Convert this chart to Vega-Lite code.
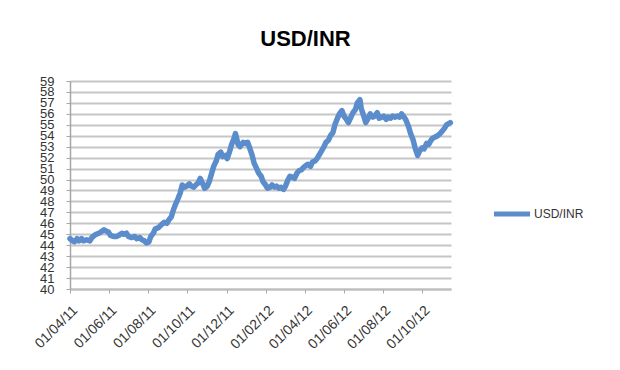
{
  "$schema": "https://vega.github.io/schema/vega-lite/v6.json",
  "autosize": {"type": "none"},
  "width": 381,
  "height": 208,
  "padding": {"left": 70, "top": 81, "right": 169, "bottom": 81},
  "background": "white",
  "title": {"text": "USD/INR", "anchor": "middle", "frame": "group", "dx": 45, "offset": 24, "font": "Liberation Sans", "fontSize": 22, "fontWeight": "bold", "color": "#000000"},
  "config": {"view": {"stroke": null}},
  "data": {"values": [
    {"date": "2011-04-01", "rate": 44.6}, {"date": "2011-04-05", "rate": 44.4}, {"date": "2011-04-08", "rate": 44.3}, {"date": "2011-04-12", "rate": 44.6},
    {"date": "2011-04-15", "rate": 44.4}, {"date": "2011-04-19", "rate": 44.6}, {"date": "2011-04-22", "rate": 44.4}, {"date": "2011-04-27", "rate": 44.5},
    {"date": "2011-05-02", "rate": 44.4}, {"date": "2011-05-05", "rate": 44.7}, {"date": "2011-05-09", "rate": 44.9}, {"date": "2011-05-12", "rate": 45.0},
    {"date": "2011-05-16", "rate": 45.1}, {"date": "2011-05-19", "rate": 45.2}, {"date": "2011-05-24", "rate": 45.4}, {"date": "2011-05-27", "rate": 45.3},
    {"date": "2011-05-31", "rate": 45.2}, {"date": "2011-06-03", "rate": 44.9}, {"date": "2011-06-08", "rate": 44.8}, {"date": "2011-06-13", "rate": 44.8},
    {"date": "2011-06-16", "rate": 44.9}, {"date": "2011-06-21", "rate": 45.1}, {"date": "2011-06-24", "rate": 45.0}, {"date": "2011-06-28", "rate": 45.1},
    {"date": "2011-07-01", "rate": 44.8}, {"date": "2011-07-06", "rate": 44.7}, {"date": "2011-07-11", "rate": 44.8}, {"date": "2011-07-14", "rate": 44.6},
    {"date": "2011-07-19", "rate": 44.7}, {"date": "2011-07-22", "rate": 44.5}, {"date": "2011-07-26", "rate": 44.4}, {"date": "2011-07-29", "rate": 44.2},
    {"date": "2011-08-02", "rate": 44.3}, {"date": "2011-08-05", "rate": 44.8}, {"date": "2011-08-09", "rate": 45.1}, {"date": "2011-08-12", "rate": 45.5},
    {"date": "2011-08-17", "rate": 45.6}, {"date": "2011-08-22", "rate": 45.9}, {"date": "2011-08-26", "rate": 46.1}, {"date": "2011-08-30", "rate": 46.0},
    {"date": "2011-09-02", "rate": 46.3}, {"date": "2011-09-06", "rate": 46.6}, {"date": "2011-09-09", "rate": 47.2}, {"date": "2011-09-13", "rate": 47.8},
    {"date": "2011-09-16", "rate": 48.2}, {"date": "2011-09-20", "rate": 48.8}, {"date": "2011-09-23", "rate": 49.5}, {"date": "2011-09-27", "rate": 49.3},
    {"date": "2011-09-30", "rate": 49.4}, {"date": "2011-10-04", "rate": 49.6}, {"date": "2011-10-07", "rate": 49.4}, {"date": "2011-10-11", "rate": 49.3},
    {"date": "2011-10-14", "rate": 49.5}, {"date": "2011-10-18", "rate": 49.7}, {"date": "2011-10-21", "rate": 50.1}, {"date": "2011-10-25", "rate": 49.6},
    {"date": "2011-10-28", "rate": 49.2}, {"date": "2011-11-01", "rate": 49.4}, {"date": "2011-11-04", "rate": 49.8}, {"date": "2011-11-08", "rate": 50.6},
    {"date": "2011-11-11", "rate": 51.2}, {"date": "2011-11-15", "rate": 51.7}, {"date": "2011-11-18", "rate": 52.3}, {"date": "2011-11-22", "rate": 52.5},
    {"date": "2011-11-25", "rate": 52.1}, {"date": "2011-11-29", "rate": 52.2}, {"date": "2011-12-02", "rate": 51.9}, {"date": "2011-12-06", "rate": 52.6},
    {"date": "2011-12-09", "rate": 53.2}, {"date": "2011-12-13", "rate": 53.8}, {"date": "2011-12-15", "rate": 54.2}, {"date": "2011-12-19", "rate": 53.2},
    {"date": "2011-12-22", "rate": 53.0}, {"date": "2011-12-27", "rate": 53.4}, {"date": "2011-12-30", "rate": 53.3}, {"date": "2012-01-03", "rate": 53.4},
    {"date": "2012-01-06", "rate": 52.9}, {"date": "2012-01-10", "rate": 52.2}, {"date": "2012-01-13", "rate": 51.5}, {"date": "2012-01-17", "rate": 51.0},
    {"date": "2012-01-20", "rate": 50.6}, {"date": "2012-01-24", "rate": 50.3}, {"date": "2012-01-27", "rate": 49.8}, {"date": "2012-01-31", "rate": 49.5},
    {"date": "2012-02-03", "rate": 49.2}, {"date": "2012-02-07", "rate": 49.3}, {"date": "2012-02-10", "rate": 49.5}, {"date": "2012-02-14", "rate": 49.3},
    {"date": "2012-02-17", "rate": 49.4}, {"date": "2012-02-21", "rate": 49.2}, {"date": "2012-02-24", "rate": 49.3}, {"date": "2012-02-28", "rate": 49.1},
    {"date": "2012-03-02", "rate": 49.4}, {"date": "2012-03-06", "rate": 50.0}, {"date": "2012-03-09", "rate": 50.3}, {"date": "2012-03-13", "rate": 50.2},
    {"date": "2012-03-16", "rate": 50.1}, {"date": "2012-03-20", "rate": 50.6}, {"date": "2012-03-23", "rate": 50.8}, {"date": "2012-03-27", "rate": 50.9},
    {"date": "2012-03-30", "rate": 51.1}, {"date": "2012-04-03", "rate": 51.3}, {"date": "2012-04-06", "rate": 51.4}, {"date": "2012-04-10", "rate": 51.2},
    {"date": "2012-04-13", "rate": 51.6}, {"date": "2012-04-17", "rate": 51.7}, {"date": "2012-04-20", "rate": 51.9}, {"date": "2012-04-24", "rate": 52.3},
    {"date": "2012-04-27", "rate": 52.6}, {"date": "2012-05-01", "rate": 53.0}, {"date": "2012-05-04", "rate": 53.4}, {"date": "2012-05-08", "rate": 53.6},
    {"date": "2012-05-11", "rate": 54.0}, {"date": "2012-05-15", "rate": 54.3}, {"date": "2012-05-18", "rate": 55.0}, {"date": "2012-05-22", "rate": 55.6},
    {"date": "2012-05-25", "rate": 56.0}, {"date": "2012-05-29", "rate": 56.3}, {"date": "2012-06-01", "rate": 55.8}, {"date": "2012-06-05", "rate": 55.5},
    {"date": "2012-06-08", "rate": 55.2}, {"date": "2012-06-12", "rate": 55.7}, {"date": "2012-06-15", "rate": 56.1}, {"date": "2012-06-19", "rate": 56.4},
    {"date": "2012-06-22", "rate": 57.0}, {"date": "2012-06-26", "rate": 57.3}, {"date": "2012-06-28", "rate": 56.5}, {"date": "2012-07-02", "rate": 55.8},
    {"date": "2012-07-05", "rate": 55.2}, {"date": "2012-07-09", "rate": 55.6}, {"date": "2012-07-12", "rate": 56.0}, {"date": "2012-07-16", "rate": 55.7},
    {"date": "2012-07-19", "rate": 55.8}, {"date": "2012-07-23", "rate": 56.1}, {"date": "2012-07-26", "rate": 55.6}, {"date": "2012-07-30", "rate": 55.7},
    {"date": "2012-08-02", "rate": 55.8}, {"date": "2012-08-06", "rate": 55.5}, {"date": "2012-08-09", "rate": 55.7}, {"date": "2012-08-13", "rate": 55.6},
    {"date": "2012-08-16", "rate": 55.8}, {"date": "2012-08-20", "rate": 55.7}, {"date": "2012-08-23", "rate": 55.8}, {"date": "2012-08-27", "rate": 55.7},
    {"date": "2012-08-30", "rate": 56.0}, {"date": "2012-09-03", "rate": 55.7}, {"date": "2012-09-06", "rate": 55.4}, {"date": "2012-09-10", "rate": 54.8},
    {"date": "2012-09-13", "rate": 54.2}, {"date": "2012-09-17", "rate": 53.6}, {"date": "2012-09-20", "rate": 52.9}, {"date": "2012-09-24", "rate": 52.2},
    {"date": "2012-09-27", "rate": 52.6}, {"date": "2012-10-01", "rate": 52.9}, {"date": "2012-10-04", "rate": 52.8}, {"date": "2012-10-08", "rate": 53.3},
    {"date": "2012-10-11", "rate": 53.2}, {"date": "2012-10-15", "rate": 53.6}, {"date": "2012-10-18", "rate": 53.8}, {"date": "2012-10-22", "rate": 53.9},
    {"date": "2012-10-25", "rate": 54.0}, {"date": "2012-10-29", "rate": 54.2}, {"date": "2012-11-01", "rate": 54.4}, {"date": "2012-11-05", "rate": 54.7},
    {"date": "2012-11-08", "rate": 55.0}, {"date": "2012-11-14", "rate": 55.2}
  ]},
  "mark": {"type": "line", "strokeWidth": 5.5, "strokeJoin": "round", "strokeCap": "round", "interpolate": "linear"},
  "encoding": {
    "x": {
      "field": "date", "type": "temporal",
      "scale": {"domain": ["2011-04-01T00:00:00", "2012-11-15T00:00:00"]},
      "axis": {
        "title": null,
        "grid": false,
        "values": ["2011-04-01T00:00:00", "2011-06-01T00:00:00", "2011-08-01T00:00:00", "2011-10-01T00:00:00", "2011-12-01T00:00:00", "2012-02-01T00:00:00", "2012-04-01T00:00:00", "2012-06-01T00:00:00", "2012-08-01T00:00:00", "2012-10-01T00:00:00"],
        "format": "%d/%m/%y",
        "labelAngle": -45,
        "labelFont": "Liberation Sans",
        "labelFontSize": 14,
        "labelColor": "#333333",
        "labelOverlap": false,
        "labelPadding": 10,
        "domainColor": "#bdbdbd",
        "domainWidth": 2,
        "tickColor": "#a6a6a6",
        "tickSize": 4
      }
    },
    "y": {
      "field": "rate", "type": "quantitative",
      "scale": {"domain": [40, 59], "nice": false, "zero": false},
      "axis": {
        "title": null,
        "values": [40, 41, 42, 43, 44, 45, 46, 47, 48, 49, 50, 51, 52, 53, 54, 55, 56, 57, 58, 59],
        "labelFont": "Liberation Sans",
        "labelFontSize": 13,
        "labelColor": "#333333",
        "labelOverlap": false,
        "labelPadding": 12,
        "gridColor": "#c6c6c6",
        "gridWidth": 2,
        "domainColor": "#a6a6a6",
        "domainWidth": 1.5,
        "tickColor": "#a6a6a6",
        "tickSize": 4
      }
    },
    "color": {
      "datum": "USD/INR",
      "scale": {"range": ["#5b8dcd"]},
      "legend": {
        "title": null,
        "orient": "none",
        "legendX": 421,
        "legendY": 112,
        "symbolType": "stroke",
        "symbolSize": 1300,
        "symbolStrokeWidth": 5,
        "labelFont": "Liberation Sans",
        "labelFontSize": 12,
        "labelColor": "#333333",
        "labelOffset": 1
      }
    }
  }
}
